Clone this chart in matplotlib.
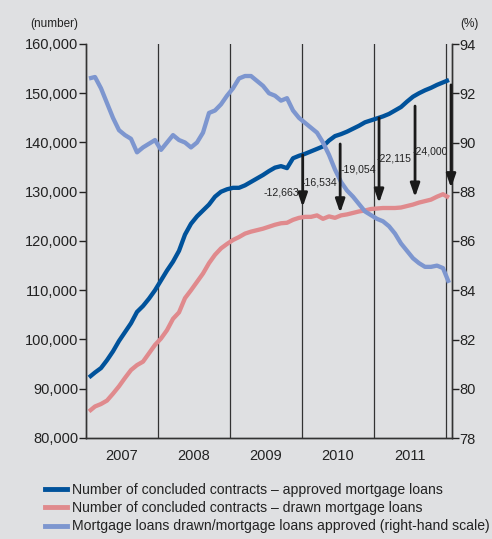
import matplotlib
matplotlib.use('Agg')
import matplotlib.pyplot as plt
import numpy as np
from matplotlib.ticker import FuncFormatter, MultipleLocator, FixedLocator
from matplotlib.lines import Line2D

plt.rcParams['font.family'] = ['Liberation Sans', 'DejaVu Sans']

# monthly data, Jan 2007 - Jan 2012
aprobados = [92300, 93300, 94200, 95800, 97600, 99700, 101500, 103300, 105600, 106800,
             108300, 110000, 112000, 114000, 115800, 118000, 121300, 123500, 125000, 126200,
             127400, 129000, 130000, 130500, 130800, 130800, 131300, 132000, 132700, 133400,
             134200, 134900, 135200, 134800, 136800, 137300, 137700, 138200, 138700, 139200,
             140400, 141300, 141700, 142200, 142800, 143400, 144100, 144500, 144900, 145300,
             145800, 146500, 147200, 148300, 149300, 150000, 150600, 151100, 151700, 152200,
             152700]
dispuestos = [85400, 86400, 86900, 87600, 89000, 90500, 92200, 93800, 94800, 95500,
              97200, 98900, 100200, 101900, 104200, 105500, 108400, 110000, 111700, 113400,
              115500, 117200, 118500, 119400, 120200, 120800, 121500, 121900, 122200, 122500,
              122900, 123300, 123600, 123700, 124300, 124700, 124900, 124900, 125200, 124500,
              125000, 124700, 125200, 125400, 125700, 126000, 126200, 126500, 126600, 126700,
              126700, 126700, 126800, 127100, 127400, 127800, 128100, 128400, 129000, 129500,
              128800]
ratio = [92.6, 92.66, 92.2, 91.6, 91.0, 90.5, 90.3, 90.15, 89.6, 89.8,
         89.95, 90.1, 89.7, 90.0, 90.3, 90.1, 90.0, 89.8, 90.0, 90.4,
         91.2, 91.3, 91.55, 91.9, 92.2, 92.6, 92.7, 92.7, 92.5, 92.3,
         92.0, 91.9, 91.7, 91.8, 91.3, 91.0, 90.8, 90.6, 90.4, 90.0,
         89.5, 88.9, 88.4, 88.05, 87.8, 87.5, 87.2, 87.05, 86.9, 86.8,
         86.6, 86.3, 85.9, 85.6, 85.3, 85.1, 84.95, 84.95, 85.0, 84.9,
         84.3]

# arrows (x in years, from / to in number of contracts)
flecha_x = [2010.01, 2010.53, 2011.07, 2011.57, 2012.07]
flecha_desde = [137500, 139700, 145000, 147400, 151700]
flecha_hasta = [126900, 125700, 127700, 128900, 130800]
flecha_texto_y = [129750, 131800, 134600, 136850, 138100]
flecha_texto = ['-12,663', '-16,534', '-19,054', '-22,115', '-24,000']

anios = [2007, 2008, 2009, 2010, 2011]

AZUL = '#00529b'
ROSA = '#e08a8d'
CELESTE = '#7d96cf'
FONDO = '#dfe0e2'

x = 2007 + (np.arange(len(aprobados)) + 0.5) / 12

fig = plt.figure(figsize=(4.92, 5.39), dpi=100, facecolor=FONDO)
ax = fig.add_axes([86/492, 1-438/539, (452-86)/492, (438-44)/539])
ax.set_facecolor(FONDO)
ax2 = ax.twinx()

for v in anios[1:] + [2012]:
    ax.axvline(v, color='#333333', lw=0.9, zorder=1)

ax.plot(x, aprobados, color=AZUL, lw=3.1, zorder=3, solid_capstyle='butt')
ax.plot(x, dispuestos, color=ROSA, lw=3.1, zorder=3, solid_capstyle='butt')
ax2.plot(x, ratio, color=CELESTE, lw=3.1, zorder=3, solid_capstyle='butt')

ax.set_xlim(2007, 2012 + 1/12)
ax.set_ylim(80000, 160000)
ax2.set_ylim(78, 94)
ax.yaxis.set_major_locator(MultipleLocator(10000))
ax.yaxis.set_major_formatter(FuncFormatter(lambda v, p: f'{int(v):,}'))
ax2.yaxis.set_major_locator(MultipleLocator(2))

ax.xaxis.set_major_locator(FixedLocator([]))
ax.xaxis.set_minor_locator(FixedLocator([a + 0.5 for a in anios]))
ax.xaxis.set_minor_formatter(FuncFormatter(lambda v, p: str(int(v))))
ax.tick_params(axis='x', which='minor', length=0, pad=8, labelsize=10.5, colors='#222222')
ax.tick_params(axis='y', length=5, pad=0.5, labelsize=10.5, colors='#222222', width=1)
ax2.tick_params(axis='y', length=5, pad=0.5, labelsize=10.5, colors='#222222', width=1)

for a in (ax, ax2):
    a.spines['top'].set_visible(False)
    for s in ['left', 'right', 'bottom']:
        a.spines[s].set_color('#333333')
        a.spines[s].set_linewidth(1)

# arrows
for xi, y0, y1, ty, t in zip(flecha_x, flecha_desde, flecha_hasta, flecha_texto_y, flecha_texto):
    ax2.annotate('', xy=(xi, y1), xytext=(xi, y0), xycoords=ax.transData, textcoords=ax.transData,
                 arrowprops=dict(arrowstyle='-|>,head_length=0.8,head_width=0.28', color='#1a1a1a',
                                 lw=2, shrinkA=0, shrinkB=0), zorder=5)
    ax2.text(xi - 0.045, ty, t, transform=ax.transData, ha='right', va='center', fontsize=7.6,
             color='#222222', zorder=6)

fig.text(30/492, 1-24/539, '(number)', fontsize=8.5, va='center', ha='left', color='#222222')
fig.text(460/492, 1-24/539, '(%)', fontsize=8.5, va='center', ha='left', color='#222222')

handles = [Line2D([], [], color=AZUL, lw=3.5),
           Line2D([], [], color=ROSA, lw=3.5),
           Line2D([], [], color=CELESTE, lw=3.5)]
labels = ['Number of concluded contracts \u2013 approved mortgage loans',
          'Number of concluded contracts \u2013 drawn mortgage loans',
          'Mortgage loans drawn/mortgage loans approved (right-hand scale)']
fig.legend(handles, labels, loc='upper left', bbox_to_anchor=(45/492, 1-483/539), frameon=False,
           fontsize=10.1, handlelength=1.6, handletextpad=0.3, labelspacing=0.3,
           borderpad=0, borderaxespad=0, labelcolor='#222222')

fig.savefig('out.png', dpi=100, facecolor=FONDO)
